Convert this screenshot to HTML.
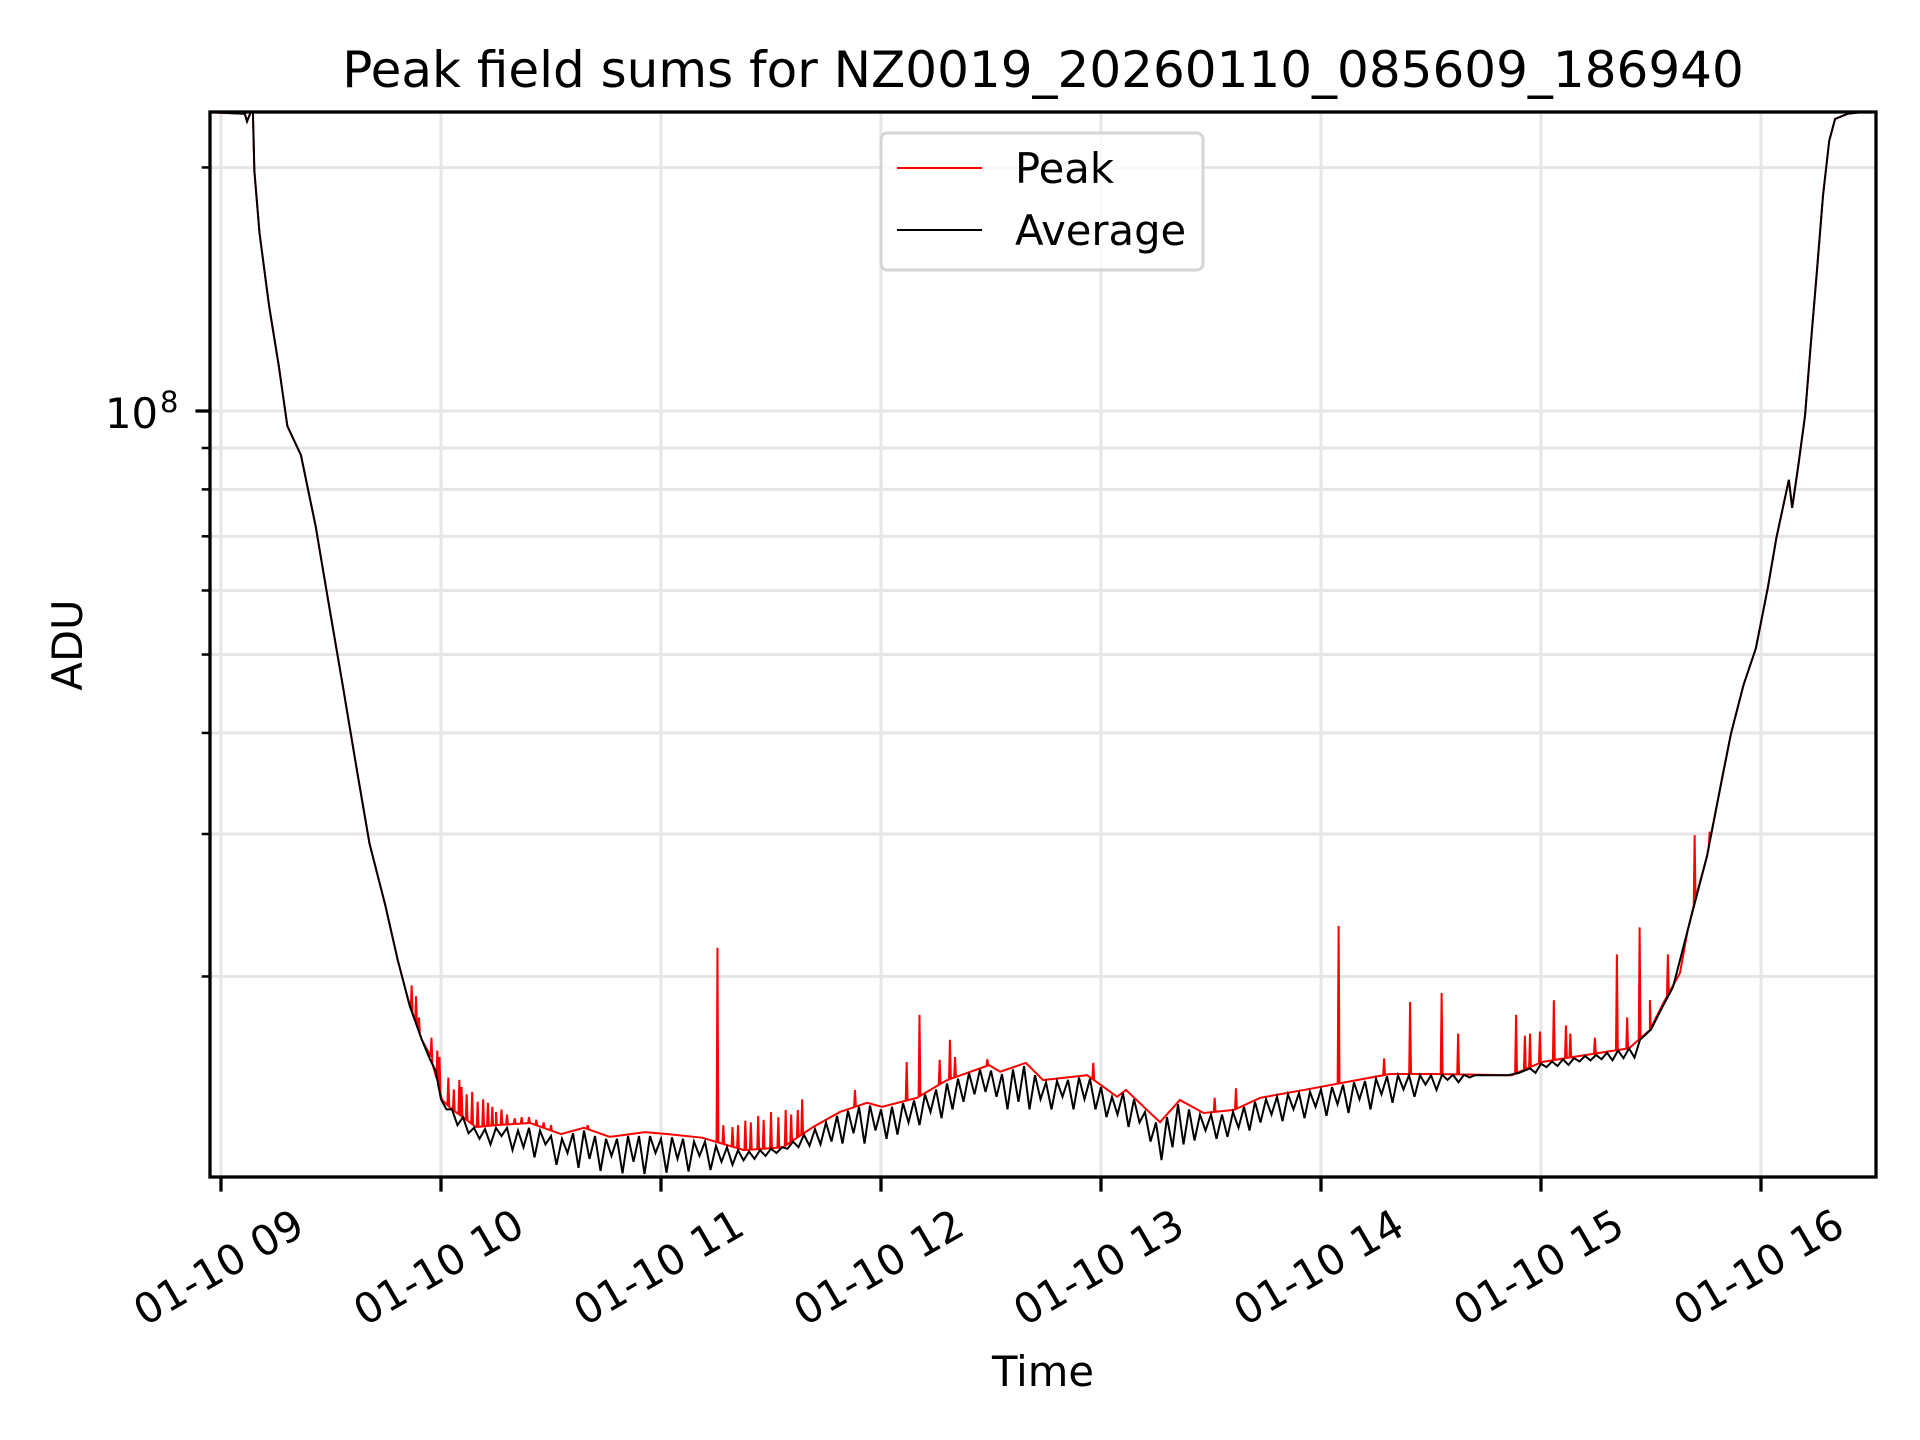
<!DOCTYPE html>
<html><head><meta charset="utf-8"><style>
html,body{margin:0;padding:0;background:#fff;}
svg{display:block;font-family:"DejaVu Sans","Liberation Sans",sans-serif;}
</style></head><body>
<svg id="chart" width="1920" height="1440" viewBox="0 0 1920 1440" xmlns="http://www.w3.org/2000/svg">
<rect x="0" y="0" width="1920" height="1440" fill="#fff"/>
<defs><clipPath id="plotclip"><rect x="210" y="112" width="1666" height="1065"/></clipPath></defs>
<g id="grid"></g>
<g id="series" clip-path="url(#plotclip)"></g>
<g id="axes"></g>
<text x="1043" y="87" font-size="50" text-anchor="middle" fill="#000">Peak field sums for NZ0019_20260110_085609_186940</text>
<text x="1043" y="1386" font-size="41.7" text-anchor="middle" fill="#000">Time</text>
<text x="82" y="645" font-size="41.7" text-anchor="middle" fill="#000" transform="rotate(-90 82 645)">ADU</text>
<g>
<rect x="881" y="133" width="322" height="137" rx="6" fill="#fff" fill-opacity="0.8" stroke="#d5d5d5" stroke-width="3"/>
<line x1="897" y1="168" x2="982" y2="168" stroke="#ff0000" stroke-width="2"/>
<text x="1015" y="183" font-size="41.7" fill="#000">Peak</text>
<line x1="897" y1="230" x2="982" y2="230" stroke="#000" stroke-width="2"/>
<text x="1015" y="245" font-size="41.7" fill="#000">Average</text>
</g>
</svg>
<script>
// ---- data (time in minutes after 01-10 09:00, values in millions of ADU) ----
const xTickLabels = ["01-10 09","01-10 10","01-10 11","01-10 12","01-10 13","01-10 14","01-10 15","01-10 16"];
const xTickMinutes = [0,60,120,180,240,300,360,420];
const yMajorTicks = [1e8];
const yMinorTicks = [2e7,3e7,4e7,5e7,6e7,7e7,8e7,9e7,2e8];

const edgeTimes = [-3,6.5,7.1,8.1,8.7,9.1,10.5,13.1,15.8,18.1,21.8,25.8,29.2,33.2,37.1,40.5,44.8,48.2,51.5,54.8];
const edgeValuesM = [234,233,228,234,234,198,166,135,113.4,95.8,88.2,72.1,58.4,45.8,35.9,29.2,24.5,20.96,18.38,16.69];

const riseTimes = [400,405.3,408.5,411.8,415.2,418.6,421.9,424.2,426.3,427.6,428.5,430.2,432,433.6,435.3,436.9,438.6,440.2,443.6,450.5];
const riseValuesM = [22.8,28.2,33.5,39.9,45.8,50.9,60.6,69.7,77.2,82.2,75.9,85.8,98.6,121.3,149.8,184.4,215.7,229.6,233,235];

const peakBaseTimes = [57,60.3,63,66,69.5,75,84.3,92.7,99,106,115.6,121.9,131.2,142.6,153.3,161.5,168.8,176.2,180.3,189.8,198,209.5,212.5,219.5,224.2,236.2,244.4,246.8,256.1,261.5,268,276.3,283.4,295.4,307,318.8,330.8,352,360.3,372,384,389.7,393,397.9];
const peakBaseValuesM = [16.0,14.07,13.7,13.4,13.03,13.1,13.18,12.77,13.0,12.67,12.84,12.77,12.64,12.2,12.3,13.03,13.6,13.96,13.8,14.16,14.89,15.54,15.25,15.64,14.89,15.1,14.2,14.48,13.21,14.07,13.56,13.68,14.16,14.48,14.81,15.15,15.15,15.1,15.68,15.99,16.3,17.17,18.4,20.2];

const spikeTimes = [52,53.2,54,57.4,59,59.6,62,63.5,65,65.6,67,68.5,70,71.5,72.8,74,75,76.5,78,80.1,82,84,86,88,90,100,135.4,137,139.5,141,143,144.5,146.5,148,150,152,154,155.5,157.3,158.5,172.9,187,190.5,196,198.8,200.2,209,237.9,271,276.8,304.8,317.2,324.3,332.9,337.4,353.2,355.6,357,359.7,363.5,366.8,368,374.7,380.7,383.5,386.9,389.7,394.6,401.9,406,409];
const spikeValuesM = [19.5,18.9,17.8,16.8,16.2,15.9,15.0,14.5,14.9,14.6,14.3,14.4,14.0,14.1,13.96,13.8,13.6,13.7,13.5,13.36,13.4,13.4,13.3,13.2,13.1,13.1,21.7,13.1,13.03,13.1,13.27,13.2,13.45,13.3,13.6,13.4,13.68,13.5,13.68,14.1,14.48,15.68,17.93,15.78,16.7,15.9,15.8,15.64,14.16,14.55,23.1,15.84,18.6,19.08,17.0,17.93,16.9,17.0,17.1,18.7,17.4,17.0,16.8,21.3,17.8,23.0,18.7,21.3,29.9,30.2,32.9];

const avgNoisyTimes = [57,58.5,60,61.5,63,64.5,66,67.5,69,70.5,72,73.5,75,76.5,78,79.5,81,82.5,84,85.5,87,88.5,90,91.5,93,94.5,96,97.5,99,100.5,102,103.5,105,106.5,108,109.5,111,112.5,114,115.5,117,118.5,120,121.5,123,124.5,126,127.5,129,130.5,132,133.5,135,136.5,138,139.5,141,142.5,144,145.5,147,148.5,150,151.5,153,154.5,156,157.5,159,160.5,162,163.5,165,166.5,168,169.5,171,172.5,174,175.5,177,178.5,180,181.5,183,184.5,186,187.5,189,190.5,192,193.5,195,196.5,198,199.5,201,202.5,204,205.5,207,208.5,210,211.5,213,214.5,216,217.5,219,220.5,222,223.5,225,226.5,228,229.5,231,232.5,234,235.5,237,238.5,240,241.5,243,244.5,246,247.5,249,250.5,252,253.5,255,256.5,258,259.5,261,262.5,264,265.5,267,268.5,270,271.5,273,274.5,276,277.5,279,280.5,282,283.5,285,286.5,288,289.5,291,292.5,294,295.5,297,298.5,300,301.5,303,304.5,306,307.5,309,310.5,312,313.5,315,316.5,318,319.5,321,322.5,324,325.5,327,328.5,330,331.5,333,334.5,336,337.5,339,340.5,342,345,348,351,354,357,358.5,360,361.5,363,364.5,366,367.5,369,370.5,372,373.5,375,376.5,378,379.5,381,382.5,384,385.5,387,390,393,396];
const avgNoisyValuesM = [15.8,15.3,14.1,13.7,13.7,13.1,13.4,12.8,13.0,12.6,12.95,12.4,13.0,12.7,13.0,12.2,12.9,12.3,13.0,11.95,12.9,12.4,12.7,11.7,12.6,12.1,12.8,11.6,12.9,11.9,12.7,11.5,12.6,12.0,12.6,11.42,12.7,11.8,12.7,11.4,12.7,12.1,12.6,11.44,12.65,11.9,12.6,11.48,12.5,12.0,12.5,11.53,12.35,11.8,12.3,11.7,12.2,11.85,12.15,11.9,12.2,12.0,12.25,12.1,12.3,12.25,12.5,12.3,12.75,12.35,12.95,12.4,13.2,12.5,13.45,12.43,13.65,12.8,13.8,12.43,13.85,12.9,13.7,12.6,13.8,12.75,13.95,13.2,14.05,13.1,14.3,13.6,14.5,13.36,14.75,13.7,14.95,14.0,15.2,14.3,15.35,14.4,15.3,14.2,15.15,13.7,15.35,14.0,15.5,13.7,15.1,14.1,14.8,13.7,14.85,14.2,14.9,13.7,15.0,14.1,14.95,13.7,14.6,13.4,14.2,13.5,14.35,13.03,14.1,13.2,13.6,12.5,13.2,11.86,13.4,12.3,13.9,12.4,13.7,12.54,13.5,12.9,13.5,12.6,13.5,12.67,13.6,13.0,13.8,12.9,14.0,13.2,14.1,13.5,14.2,13.25,14.3,13.7,14.35,13.36,14.4,13.8,14.5,13.45,14.6,13.9,14.7,13.56,14.8,14.1,14.85,13.7,14.95,14.3,15.05,13.96,15.1,14.5,15.1,14.2,15.1,14.7,15.1,14.48,15.12,14.9,15.12,14.8,15.12,15.0,15.1,15.1,15.1,15.1,15.2,15.4,15.2,15.6,15.45,15.7,15.5,15.8,15.55,15.85,15.7,15.95,15.75,16.0,15.8,16.1,15.75,16.2,15.85,16.3,15.88,16.7,17.2,18.3,19.4];

// ---- axes ----
const PL=210, PR=1876, PT=112, PB=1177;
const X0=221, PX_PER_MIN=220/60;
function xScale(m){ return X0 + m*PX_PER_MIN; }
const Y8=411, DEC=809;
function yScale(v){ return Y8 - (Math.log10(v)-8)*DEC; }

const NS="http://www.w3.org/2000/svg";
function mk(tag, attrs, parent){
  const e=document.createElementNS(NS,tag);
  for(const k in attrs) e.setAttribute(k,attrs[k]);
  parent.appendChild(e); return e;
}
const grid=document.getElementById('grid');
const axes=document.getElementById('axes');
const series=document.getElementById('series');

yMinorTicks.concat(yMajorTicks).forEach(v=>{
  const y=yScale(v);
  const g=mk('line',{x1:PL,x2:PR,y1:y,y2:y,stroke:'#e6e6e6','stroke-width':3},grid);
  
  
});
xTickMinutes.forEach(m=>{
  const x=xScale(m);
  const g=mk('line',{x1:x,x2:x,y1:PT,y2:PB,stroke:'#e6e6e6','stroke-width':3},grid);
  
  
});

function toPath(ts, vs){
  let d='';
  for(let i=0;i<ts.length;i++){
    d+=(i?'L':'M')+xScale(ts[i]).toFixed(2)+','+yScale(vs[i]*1e6).toFixed(2);
  }
  return d;
}
function interp(ts, vs, t){
  if(t<=ts[0]) return vs[0];
  for(let i=1;i<ts.length;i++){
    if(t<=ts[i]){ const f=(t-ts[i-1])/(ts[i]-ts[i-1]); return vs[i-1]+f*(vs[i]-vs[i-1]); }
  }
  return vs[vs.length-1];
}

const allBaseT=edgeTimes.concat(peakBaseTimes,riseTimes);
const allBaseV=edgeValuesM.concat(peakBaseValuesM,riseValuesM);
let pts=[];
allBaseT.forEach((t,i)=>pts.push([t,allBaseV[i]]));
pts.sort((a,b)=>a[0]-b[0]);
const sT=pts.map(p=>p[0]), sV=pts.map(p=>p[1]);
spikeTimes.forEach((t,i)=>{
  const b1=interp(sT,sV,t-0.25), b=interp(sT,sV,t), b2=interp(sT,sV,t+0.25);
  pts.push([t-0.25,b1]); pts.push([t,Math.max(b,spikeValuesM[i])]); pts.push([t+0.25,b2]);
});
pts.sort((a,b)=>a[0]-b[0]);
const peakPath=mk('path',{d:toPath(pts.map(p=>p[0]),pts.map(p=>p[1])),fill:'none',stroke:'#ff0000','stroke-width':2},series);



const aT=edgeTimes.concat(avgNoisyTimes,riseTimes);
const aV=edgeValuesM.concat(avgNoisyValuesM,riseValuesM);
const avgPath=mk('path',{d:toPath(aT,aV),fill:'none',stroke:'#000','stroke-width':2},series);



const sp=mk('rect',{x:PL,y:PT,width:PR-PL,height:PB-PT,fill:'none',stroke:'#000','stroke-width':3.3},axes);



xTickMinutes.forEach((m,i)=>{
  const x=xScale(m);
  const t=mk('line',{x1:x,x2:x,y1:PB,y2:PB+14.6,stroke:'#000','stroke-width':3.3},axes);
  
  
  const ax=x+86, ay=1233;
  const lb=mk('text',{x:ax,y:ay,'font-size':41.7,'text-anchor':'end',fill:'#000',transform:'rotate(-30 '+ax+' '+ay+')'},axes);
  lb.textContent=xTickLabels[i];
  
  
});
yMajorTicks.forEach(v=>{
  const y=yScale(v);
  const t=mk('line',{x1:PL-14.6,x2:PL,y1:y,y2:y,stroke:'#000','stroke-width':3.3},axes);
  
  
  const lb=mk('text',{x:158,y:y+17,'font-size':41.7,'text-anchor':'end',fill:'#000'},axes);
  lb.textContent='10';
  
  
  const ex=mk('text',{x:160,y:y+1,'font-size':29,'text-anchor':'start',fill:'#000'},axes);
  ex.textContent=String(Math.round(Math.log10(v)));
  
  
});
yMinorTicks.forEach(v=>{
  const y=yScale(v);
  const t=mk('line',{x1:PL-8.3,x2:PL,y1:y,y2:y,stroke:'#000','stroke-width':2.5},axes);
  
  
});
</script>
</body></html>
